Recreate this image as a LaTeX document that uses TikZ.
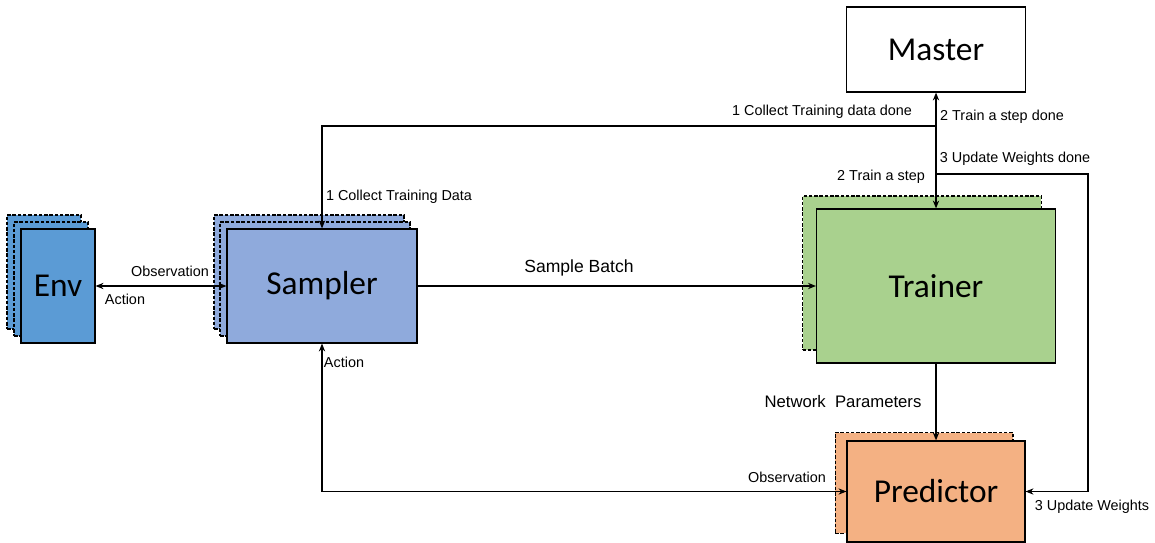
\documentclass[tikz,border=0pt]{standalone}
\usepackage{fontspec}
\setmainfont{Liberation Sans}
\newfontfamily\boxfont{Carlito}
\usetikzlibrary{positioning,arrows.meta}

\definecolor{envblue}{HTML}{5B9BD5}
\definecolor{samplerblue}{HTML}{8FAADC}
\definecolor{trainergreen}{HTML}{A9D18E}
\definecolor{predictororange}{HTML}{F4B183}

\tikzset{
  >={Stealth[length=4.5pt,width=3.6pt]},
  box/.style={draw, line width=0.7pt, inner sep=0pt,
    font=\boxfont\fontsize{19}{22}\selectfont},
  backbox/.style={draw, line width=0.6pt, dash pattern=on 2pt off 1pt, inner sep=0pt},
  lbl/.style={font=\fontsize{8.2}{10}\selectfont, inner sep=0pt},
  link/.style={line width=0.6pt},
  flow/.style={line width=1.4pt}
}

\begin{document}
\begin{tikzpicture}[x=0.02cm, y=-0.02cm]
  \useasboundingbox (0,0) rectangle (1155,543);

  % env stack
  \node[backbox, fill=envblue, minimum width=1.48cm, minimum height=2.28cm] (envc) at (44,272) {};
  \node[backbox, fill=envblue, minimum width=1.48cm, minimum height=2.28cm] (envb) at (51,279) {};
  \node[box, fill=envblue, minimum width=1.48cm, minimum height=2.28cm] (env) at (58,286) {Env};

  % sampler stack
  \node[backbox, fill=samplerblue, minimum width=3.8cm, minimum height=2.28cm] (samplerc) at (309,272) {};
  \node[backbox, fill=samplerblue, minimum width=3.8cm, minimum height=2.28cm] (samplerb) at (315,279) {};
  \node[box, fill=samplerblue, minimum width=3.8cm, minimum height=2.28cm] (sampler) at (322,286) {Sampler};

  % trainer
  \node[backbox, fill=trainergreen, minimum width=4.78cm, minimum height=3.08cm] (trainerb) at (922,273) {};
  \node[box, fill=trainergreen, minimum width=4.78cm, minimum height=3.08cm] (trainer) at (936,286) {Trainer};

  % predictor
  \node[backbox, fill=predictororange, minimum width=3.56cm, minimum height=2.02cm] (predictorb) at (924,483) {};
  \node[box, fill=predictororange, minimum width=3.56cm, minimum height=2.02cm] (predictor) at (936,491.5) {Predictor};

  % master
  \node[box, fill=white, minimum width=3.58cm, minimum height=1.7cm] (master) at (936,49.5) {Master};

  \coordinate (collect) at (936,126);
  \coordinate (update) at (936,174);
  \coordinate (updateR) at (1088,174);

  % connectors
  \draw[link,<->] (env) -- (sampler);
  \draw[flow,->] (sampler) -- (trainer);
  \draw[flow,->] (trainer) -- (predictor);
  \draw[link,<->] (master) -- (trainer);
  \draw[link,->] (collect) -| (sampler);
  \draw[link,->] (update) -- (updateR) |- (predictor);
  \draw[link,<->] (predictor) -| (sampler);

  % labels
  \node[lbl] (obsenv) at (170,271) {Observation};
  \node[lbl] (actenv) at (125,299) {Action};
  \node[lbl] (collectlbl) at (399,197) {1 Collect Training Data};
  \node[lbl] (collectdone) at (822,112) {1 Collect Training data done};
  \node[lbl] (stepdone) at (1002,117) {2 Train a step done};
  \node[lbl] (updatedone) at (1015,159) {3 Update Weights done};
  \node[lbl] (steplbl) at (881,177) {2 Train a step};
  \node[lbl, font=\fontsize{10}{12}\selectfont] (batchlbl) at (579,268) {Sample Batch};
  \node[lbl, font=\fontsize{9.5}{11}\selectfont] (paramlbl) at (843,402) {Network\ \ Parameters};
  \node[lbl] (obspred) at (787,477) {Observation};
  \node[lbl] (actsampler) at (344,362) {Action};
  \node[lbl] (updatelbl) at (1092,507) {3 Update Weights};
\end{tikzpicture}
\end{document}
